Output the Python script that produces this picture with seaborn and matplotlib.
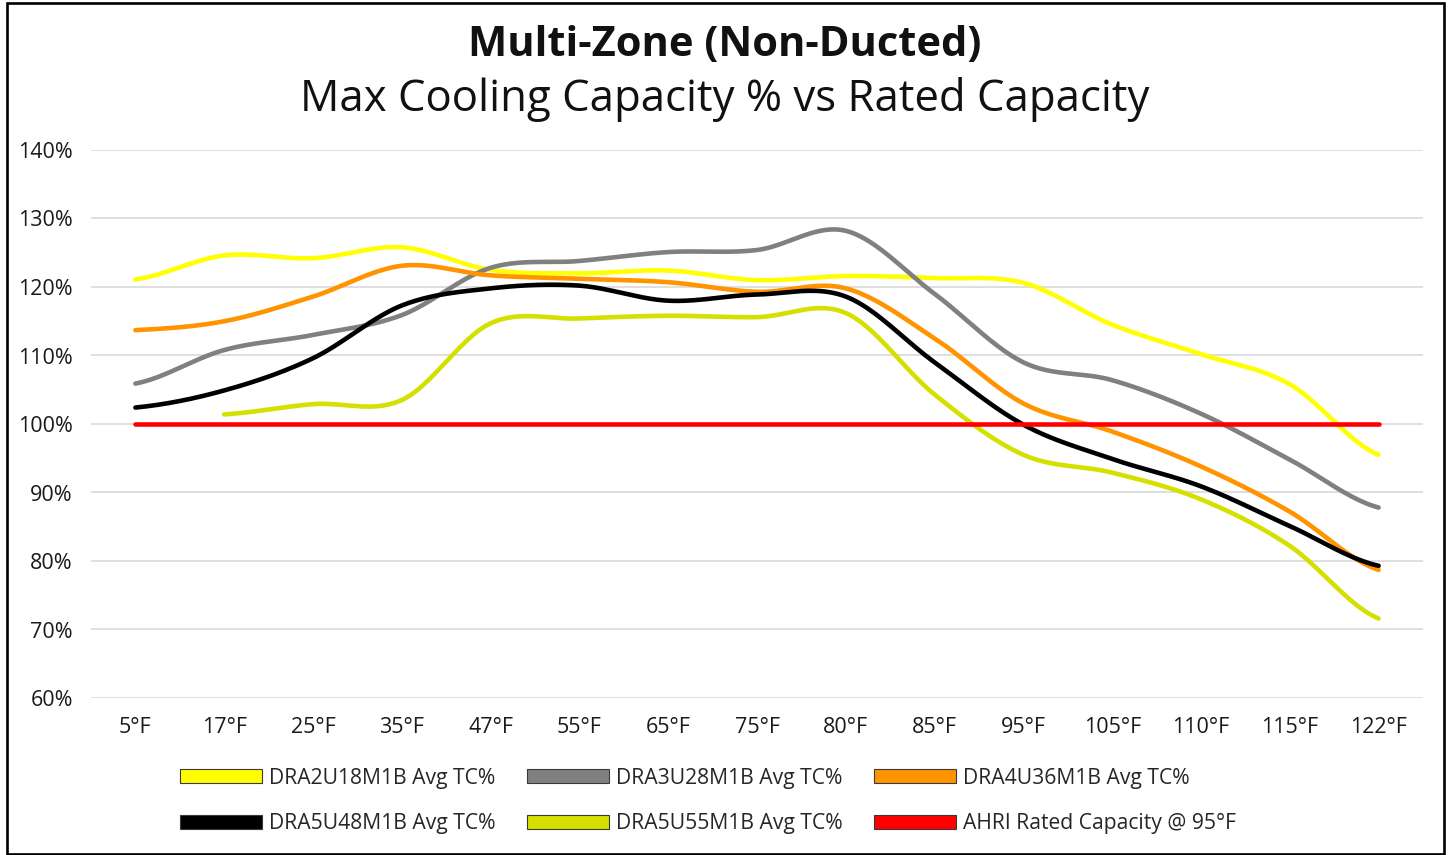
import numpy as np
import pandas as pd
import matplotlib
matplotlib.use('Agg')
import matplotlib.pyplot as plt
import seaborn as sns
from matplotlib.patches import Patch, Rectangle

# Данные графика
categories = ['5°F', '17°F', '25°F', '35°F', '47°F', '55°F', '65°F', '75°F',
              '80°F', '85°F', '95°F', '105°F', '110°F', '115°F', '122°F']

dra2u18 = [121.1, 124.6, 124.2, 125.8, 122.5, 122.0, 122.4, 121.0,
           121.6, 121.3, 120.6, 114.5, 110.2, 105.8, 95.5]
dra3u28 = [105.9, 110.8, 113.0, 115.9, 122.8, 123.8, 125.1, 125.4,
           128.2, 119.0, 109.0, 106.4, 101.5, 94.8, 87.8]
dra4u36 = [113.7, 115.0, 118.6, 123.1, 121.7, 121.2, 120.7, 119.3,
           119.8, 112.5, 103.0, 98.9, 93.8, 87.2, 78.7]
dra5u48 = [102.4, 104.9, 109.6, 117.3, 119.8, 120.2, 118.0, 118.9,
           118.6, 109.0, 99.9, 94.9, 90.9, 85.1, 79.3]
dra5u55 = [np.nan, 101.4, 102.9, 103.5, 114.7, 115.4, 115.8, 115.6,
           116.2, 104.3, 95.5, 92.9, 89.0, 82.2, 71.6]
ahri_rated = [100.0] * 15

series_names = ['DRA2U18M1B Avg TC%', 'DRA3U28M1B Avg TC%', 'DRA4U36M1B Avg TC%',
                'DRA5U48M1B Avg TC%', 'DRA5U55M1B Avg TC%', 'AHRI Rated Capacity @ 95°F']
series_values = [dra2u18, dra3u28, dra4u36, dra5u48, dra5u55, ahri_rated]
series_colors = ['#FFFF00', '#808080', '#FF9400', '#000000', '#D6E000', '#FF0000']


def smooth_line(values, steps=24):
    """Сглаживание как в Excel (кривая Catmull-Rom через точки)"""
    idx = np.array([i for i, v in enumerate(values) if not np.isnan(v)], dtype=float)
    y = np.array([values[int(i)] for i in idx])
    n = len(y)
    # касательные
    m = np.zeros(n)
    for i in range(n):
        prev_y = y[i - 1] if i > 0 else y[i]
        next_y = y[i + 1] if i < n - 1 else y[i]
        m[i] = (next_y - prev_y) / 2
    xs, ys = [], []
    for i in range(n - 1):
        t = np.linspace(0, 1, steps, endpoint=(i == n - 2))
        h00 = 2 * t**3 - 3 * t**2 + 1
        h10 = t**3 - 2 * t**2 + t
        h01 = -2 * t**3 + 3 * t**2
        h11 = t**3 - t**2
        xs.append(idx[i] + t * (idx[i + 1] - idx[i]))
        ys.append(h00 * y[i] + h10 * m[i] + h01 * y[i + 1] + h11 * m[i + 1])
    return np.concatenate(xs), np.concatenate(ys)


sns.set_theme(style='white')
plt.rcParams['font.family'] = ['Open Sans', 'DejaVu Sans']

fig = plt.figure(figsize=(14.49, 8.55), dpi=100)
ax = fig.add_axes([91 / 1449, 1 - 698 / 855, (1423 - 91) / 1449, (698 - 150) / 855])

for name, vals, color in zip(series_names, series_values, series_colors):
    xs, ys = smooth_line(vals)
    df = pd.DataFrame({'x': xs, 'y': ys})
    sns.lineplot(data=df, x='x', y='y', ax=ax, color=color, linewidth=3.3,
                 sort=False, estimator=None, zorder=3, legend=False)

ax.set_xlim(-0.5, len(categories) - 0.5)
ax.set_ylim(60, 140)
ax.set_xticks(range(len(categories)))
ax.set_xticklabels(categories)
yticks = list(range(60, 141, 10))
ax.set_yticks(yticks)
ax.set_yticklabels([f'{v}%' for v in yticks])
ax.tick_params(axis='both', length=0, labelsize=15.5, colors='#1a1a1a')
ax.tick_params(axis='x', pad=14)
ax.tick_params(axis='y', pad=13)
ax.set_xlabel('')
ax.set_ylabel('')
ax.yaxis.grid(True, color='#D9D9D9', linewidth=1.2)
ax.xaxis.grid(False)
for side in ['top', 'right', 'bottom', 'left']:
    ax.spines[side].set_visible(False)

# Заголовки
fig.text(0.5, 1 - 45 / 855, 'Multi-Zone (Non-Ducted)', ha='center', va='center',
         fontsize=30, fontweight='bold', color='#111111')
fig.text(0.5, 1 - 99 / 855, 'Max Cooling Capacity % vs Rated Capacity', ha='center',
         va='center', fontsize=31.5, color='#111111')

# Легенда: порядок по столбцам, чтобы строки совпали с оригиналом
order = [0, 3, 1, 4, 2, 5]
handles = [Patch(facecolor=series_colors[i], edgecolor='#3a3a3a', linewidth=0.8) for i in order]
labels = [series_names[i] for i in order]
fig.legend(handles, labels, ncol=3, loc='center', bbox_to_anchor=(0.4885, 1 - 801 / 855),
           frameon=False, fontsize=15.2, handlelength=3.9, handleheight=0.65,
           handletextpad=0.3, columnspacing=1.5, labelspacing=1.15)

# Рамка вокруг всей диаграммы
fig.add_artist(Rectangle((7 / 1449, 1.5 / 855), (1443.5 - 7) / 1449, (852 - 1.5) / 855,
                         transform=fig.transFigure, fill=False, edgecolor='#000000',
                         linewidth=1.9))

fig.savefig('out.png', dpi=100, facecolor='white')
plt.close(fig)
